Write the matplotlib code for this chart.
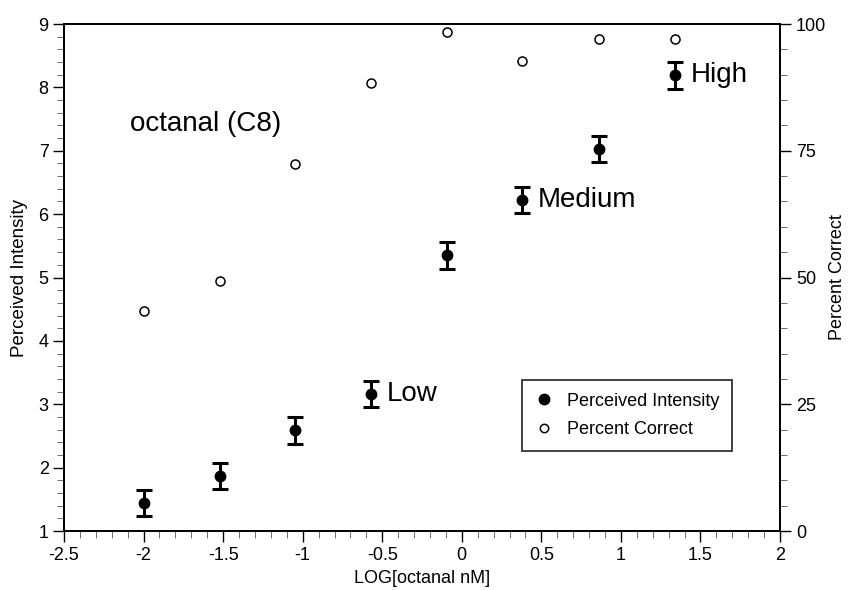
import matplotlib
matplotlib.use('Agg')
import matplotlib.pyplot as plt
from matplotlib.ticker import MultipleLocator
from matplotlib.lines import Line2D

plt.rcParams['font.family'] = ['Liberation Sans', 'DejaVu Sans']

# region Data
log_conc = [-2.0, -1.52, -1.05, -0.57, -0.09, 0.38, 0.86, 1.34]
intensity = [1.44, 1.87, 2.59, 3.16, 5.35, 6.22, 7.03, 8.19]
intensity_err = [0.21, 0.21, 0.21, 0.21, 0.21, 0.21, 0.21, 0.21]
pct_correct = [43.4, 49.3, 72.4, 88.4, 98.4, 92.7, 97.0, 97.0]
level_labels = ['Low', 'Medium', 'High']
level_idx = [3, 5, 7]
# endregion

fig = plt.figure(figsize=(8.48, 5.90), dpi=100, facecolor='white')
ax = fig.add_axes([0.0755, 0.1, 0.8443, 0.8593])
ax2 = ax.twinx()

ax.errorbar(log_conc, intensity, yerr=intensity_err, fmt='o', color='black',
            markersize=7.5, elinewidth=2.2, capsize=5.5, capthick=2.2, zorder=3)
ax2.plot(log_conc, pct_correct, 'o', markerfacecolor='white', markeredgecolor='black',
         markersize=6.5, markeredgewidth=1.1, linestyle='none')

for lab, i in zip(level_labels, level_idx):
    ax.text(log_conc[i] + 0.1, intensity[i], lab, fontsize=20, va='center', ha='left')
ax.text(-2.085, 7.42, 'octanal (C8)', fontsize=20, va='center', ha='left')

ax.set_xlim(-2.5, 2)
ax.set_ylim(1, 9)
ax2.set_ylim(0, 100)

ax.xaxis.set_major_locator(MultipleLocator(0.5))
ax.xaxis.set_minor_locator(MultipleLocator(0.1))
ax.yaxis.set_major_locator(MultipleLocator(1))
ax.yaxis.set_minor_locator(MultipleLocator(0.2))
ax2.yaxis.set_major_locator(MultipleLocator(25))
ax2.yaxis.set_minor_locator(MultipleLocator(5))

ax.xaxis.set_major_formatter(plt.FuncFormatter(lambda v, p: ('%g' % v)))

for a in (ax, ax2):
    a.tick_params(which='major', length=8, width=1, labelsize=13, direction='out')
    a.tick_params(which='minor', length=5, width=0.6, color='#555555', direction='out')
    for s in a.spines.values():
        s.set_linewidth(1.3)
ax.tick_params(axis='x', which='both', top=False)
ax.tick_params(axis='y', pad=3)

ax.set_xlabel('LOG[octanal nM]', fontsize=13, labelpad=4)
ax.set_ylabel('Perceived Intensity', fontsize=13.5, labelpad=8)
ax2.set_ylabel('Percent Correct', fontsize=13, labelpad=2)

handles = [Line2D([], [], marker='o', color='black', linestyle='none', markersize=7.5),
           Line2D([], [], marker='o', markerfacecolor='white', markeredgecolor='black',
                  linestyle='none', markersize=6, markeredgewidth=1.1)]
leg = ax.legend(handles, ['Perceived Intensity', 'Percent Correct'], loc='upper left',
                bbox_to_anchor=(0.6397, 0.2978), fontsize=13, frameon=True,
                fancybox=False, edgecolor='black', handlelength=1.0,
                handletextpad=0.8, borderpad=0.7, labelspacing=0.65,
                borderaxespad=0)
leg.get_frame().set_linewidth(1.3)

fig.savefig('out.png', dpi=100, facecolor='white')
